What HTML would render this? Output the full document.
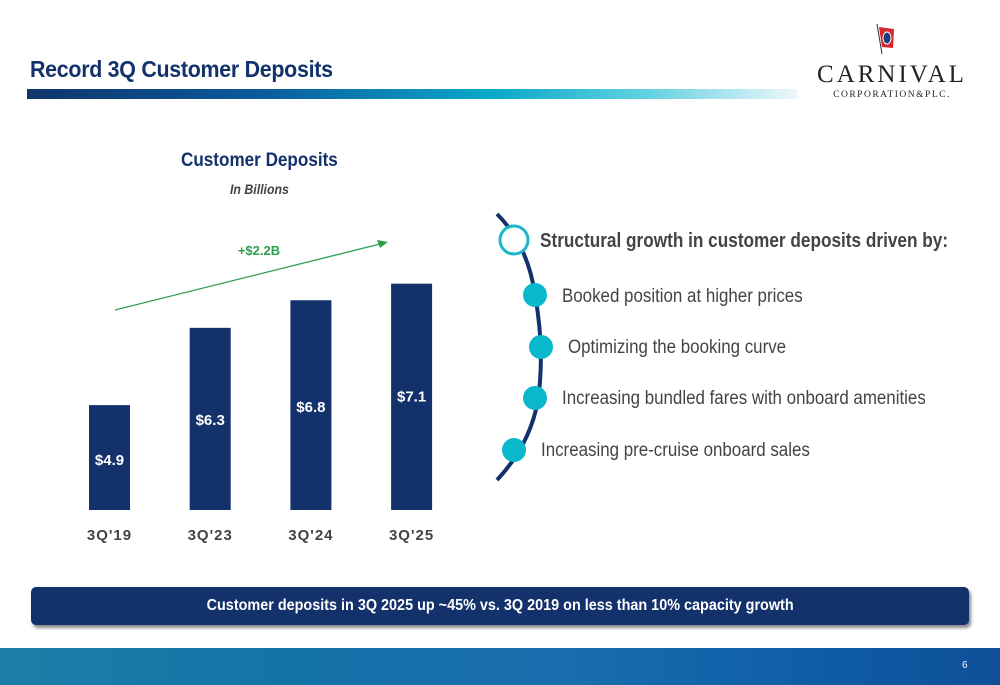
<!DOCTYPE html>
<html><head><meta charset="utf-8"><style>
body{margin:0;width:1000px;height:685px;position:relative;background:#fff;font-family:"Liberation Sans",sans-serif;overflow:hidden}
.a{position:absolute;white-space:nowrap}
</style></head><body>
<div class="a" style="left:30px;top:56px;font-size:23px;font-weight:bold;color:#13316b;letter-spacing:-0.3px;transform:scaleX(.93);transform-origin:left">Record 3Q Customer Deposits</div>
<div class="a" style="left:27px;top:89px;width:770px;height:10px;background:linear-gradient(90deg,#10356a,#0a5a9c 30%,#07a8c8 60%,#5fd0e0 80%,#eef6fb)"></div>
<svg class="a" style="left:800px;top:20px" width="200" height="85">
<line x1="77" y1="4" x2="82" y2="34" stroke="#333" stroke-width="1"/>
<path d="M79 7 L94 9 L93 28 L82 27 Z" fill="#d9262c"/><ellipse cx="87" cy="18" rx="4" ry="6" fill="#1d3f7a" stroke="#fff"/>
<text x="92" y="62" text-anchor="middle" font-family="Liberation Serif" font-size="25" letter-spacing="3" fill="#222">CARNIVAL</text>
<text x="92" y="77" text-anchor="middle" font-family="Liberation Serif" font-size="9.5" letter-spacing="1.5" fill="#222">CORPORATION&amp;PLC.</text>
</svg>
<div class="a" style="left:181px;top:150px;font-size:19px;font-weight:bold;color:#13316b;transform:scaleX(.9);transform-origin:left">Customer Deposits</div>
<div class="a" style="left:230px;top:181px;font-size:14px;font-weight:bold;font-style:italic;color:#444;transform:scaleX(.88);transform-origin:left">In Billions</div>
<svg class="a" id="chart" style="left:0;top:0" width="480" height="560"></svg>
<svg class="a" style="left:480px;top:200px" width="80" height="290">
<path d="M17 14 Q48 45 55 95 Q65 150 58 200 Q50 245 17 280" fill="none" stroke="#13316b" stroke-width="4"/>
<circle cx="34" cy="40" r="14" fill="#fff" stroke="#1bb8c9" stroke-width="3"/>
<circle cx="55" cy="95" r="12" fill="#0ab8cc"/><circle cx="61" cy="147" r="12" fill="#0ab8cc"/>
<circle cx="55" cy="198" r="12" fill="#0ab8cc"/><circle cx="34" cy="250" r="12" fill="#0ab8cc"/>
</svg>
<div class="a" style="left:540px;top:230px;font-size:20px;font-weight:bold;color:#444;transform:scaleX(.86);transform-origin:left">Structural growth in customer deposits driven by:</div>
<div class="a" style="left:562px;top:286px;font-size:19px;color:#444;transform:scaleX(.89);transform-origin:left">Booked position at higher prices</div>
<div class="a" style="left:568px;top:337px;font-size:19px;color:#444;transform:scaleX(.89);transform-origin:left">Optimizing the booking curve</div>
<div class="a" style="left:562px;top:388px;font-size:19px;color:#444;transform:scaleX(.89);transform-origin:left">Increasing bundled fares with onboard amenities</div>
<div class="a" style="left:541px;top:440px;font-size:19px;color:#444;transform:scaleX(.89);transform-origin:left">Increasing pre-cruise onboard sales</div>
<div class="a" style="left:31px;top:587px;width:938px;height:38px;background:#13316b;border-radius:5px;box-shadow:2px 3px 3px #888;color:#fff;font-size:16px;font-weight:bold;text-align:center;line-height:38px"><span style="display:inline-block;transform:scaleX(.9)">Customer deposits in 3Q 2025 up ~45% vs. 3Q 2019 on less than 10% capacity growth</span></div>
<div class="a" style="left:0;top:648px;width:1000px;height:37px;background:linear-gradient(90deg,#1a7fa8,#1473a8 30%,#1b6eae 55%,#0f5ea8 80%,#0e4f98)"></div>
<div class="a" style="left:962px;top:660px;font-size:10px;color:#fff">6</div>
<script>
const categories=["3Q'19","3Q'23","3Q'24","3Q'25"];
const values=[4.9,6.3,6.8,7.1];
const labels=["$4.9","$6.3","$6.8","$7.1"];
const svg=document.getElementById('chart');const NS='http://www.w3.org/2000/svg';
const base=510,vmin=3.0,scale=55.2;
const y=v=>base-(v-vmin)*scale;const x=i=>89+i*100.7;
const labOff=[60,97,112,118];
function mk(t,a){const e=document.createElementNS(NS,t);for(const k in a)e.setAttribute(k,a[k]);svg.appendChild(e);return e;}
values.forEach((v,i)=>{
const r=mk('rect',{x:x(i),y:y(v),width:41,height:base-y(v),fill:'#13316b'});


const lt=mk('text',{x:x(i)+20.5,y:y(v)+labOff[i],'text-anchor':'middle',fill:'#fff','font-size':15,'font-weight':'bold'});
lt.textContent=labels[i];


const ct=mk('text',{x:x(i)+20.5,y:540,'text-anchor':'middle',fill:'#444','font-size':15,'font-weight':'bold','letter-spacing':1});
ct.textContent=categories[i];


});
const ar=mk('line',{x1:115,y1:310,x2:380,y2:244,stroke:'#2aa04a','stroke-width':1.3});


const ah=mk('path',{d:'M388 242 L377 240 L380 248 Z',fill:'#2aa04a'});


const gt=mk('text',{x:259,y:255,'text-anchor':'middle',fill:'#2aa04a','font-size':13,'font-weight':'bold'});
gt.textContent='+$2.2B';


</script>
</body></html>
